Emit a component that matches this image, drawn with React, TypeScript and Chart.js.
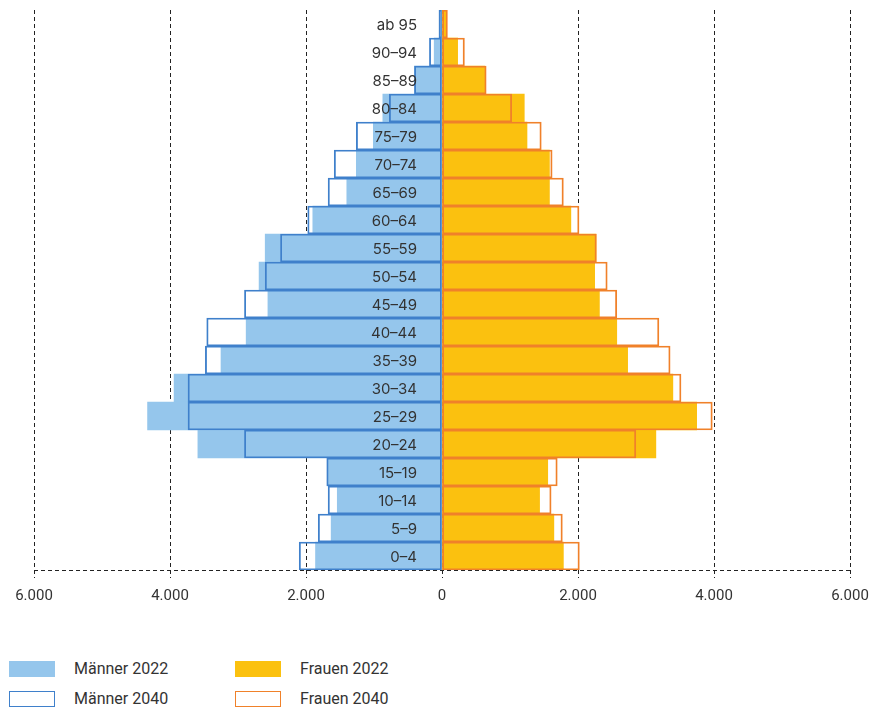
import React, { useEffect, useRef } from "react";
import { Chart, registerables } from "chart.js";

Chart.register(...registerables);

const ageGroups = ["ab 95","90–94","85–89","80–84","75–79","70–74","65–69","60–64","55–59","50–54","45–49","40–44","35–39","30–34","25–29","20–24","15–19","10–14","5–9","0–4"];
const maenner2022 = [35, 115, 405, 870, 1010, 1260, 1400, 1900, 2600, 2690, 2560, 2880, 3250, 3940, 4330, 3590, 1680, 1540, 1630, 1860];
const maenner2040 = [45, 185, 405, 775, 1260, 1585, 1675, 1975, 2375, 2600, 2905, 3460, 3480, 3735, 3735, 2905, 1695, 1675, 1820, 2100];
const frauen2022 = [55, 230, 630, 1210, 1250, 1580, 1580, 1895, 2265, 2245, 2315, 2570, 2730, 3395, 3745, 3145, 1555, 1435, 1645, 1785];
const frauen2040 = [80, 330, 650, 1025, 1460, 1620, 1785, 2015, 2270, 2430, 2570, 3190, 3355, 3515, 3975, 2850, 1695, 1605, 1770, 2020];
const axisMin = -6000;
const axisMax = 6000;
const axisStep = 2000;

const BLUE_FILL = "#95C6EC";
const BLUE_LINE = "#3F80CB";
const YELLOW_FILL = "#FBC10F";
const ORANGE_LINE = "#F0812A";
const GRID = "#222222";

const fmt = (v: number) => String(Math.abs(Math.round(v))).replace(/\B(?=(\d{3})+(?!\d))/g, ".");

const overlayPlugin = {
  id: "overlay",
  afterDatasetsDraw(chart: any) {
    const { ctx, scales, chartArea } = chart;
    ctx.save();
    ctx.strokeStyle = GRID;
    ctx.lineWidth = 1;
    ctx.setLineDash([4, 3]);
    ctx.beginPath();
    ctx.moveTo(chartArea.left, Math.round(chartArea.bottom) + 0.5);
    ctx.lineTo(chartArea.right, Math.round(chartArea.bottom) + 0.5);
    ctx.stroke();
    ctx.setLineDash([]);
    const x0 = scales.x.getPixelForValue(0);
    ctx.font = "15px Inter, 'Noto Sans', sans-serif";
    ctx.fillStyle = "#333333";
    ctx.textAlign = "right";
    ctx.textBaseline = "middle";
    ageGroups.forEach((g, i) => {
      ctx.fillText(g, x0 - 25, scales.y.getPixelForValue(i) + 1);
    });
    ctx.restore();
  },
};

const legendItems = [
  { label: "Männer 2022", fill: BLUE_FILL, border: BLUE_FILL, left: 1, top: 653 },
  { label: "Frauen 2022", fill: YELLOW_FILL, border: YELLOW_FILL, left: 227, top: 653 },
  { label: "Männer 2040", fill: "#ffffff", border: BLUE_LINE, left: 1, top: 683 },
  { label: "Frauen 2040", fill: "#ffffff", border: ORANGE_LINE, left: 227, top: 683 },
];

export default function App() {
  const ref = useRef<HTMLCanvasElement | null>(null);
  useEffect(() => {
    if (!ref.current) return;
    const common = { grouped: false, barPercentage: 1, categoryPercentage: 1 };
    const chart = new Chart(ref.current, {
      type: "bar",
      data: {
        labels: ageGroups,
        datasets: [
          { ...common, label: "Männer 2040", data: maenner2040.map((v) => -v), backgroundColor: "rgba(0,0,0,0)", borderColor: BLUE_LINE, borderWidth: 1.2, borderSkipped: false, order: 0 },
          { ...common, label: "Frauen 2040", data: frauen2040, backgroundColor: "rgba(0,0,0,0)", borderColor: ORANGE_LINE, borderWidth: 1.2, borderSkipped: false, order: 0 },
          { ...common, label: "Männer 2022", data: maenner2022.map((v) => -v), backgroundColor: BLUE_FILL, borderWidth: 0, order: 1 },
          { ...common, label: "Frauen 2022", data: frauen2022, backgroundColor: YELLOW_FILL, borderWidth: 0, order: 1 },
        ] as any,
      },
      options: {
        indexAxis: "y",
        animation: false,
        responsive: false,
        maintainAspectRatio: false,
        layout: { padding: { left: 34, right: 30, top: 2, bottom: 4 } },
        plugins: { legend: { display: false }, tooltip: { enabled: false } },
        scales: {
          x: {
            min: axisMin,
            max: axisMax,
            ticks: {
              stepSize: axisStep,
              callback: (v: any) => fmt(Number(v)),
              color: "#333333",
              font: { family: "Roboto, sans-serif", size: 15 },
              padding: 9,
            },
            grid: { color: GRID, lineWidth: 1, tickLength: 8, drawOnChartArea: true, tickBorderDash: [4, 3], tickColor: GRID },
            border: { display: false, color: GRID, dash: [4, 3] },
          } as any,
          y: {
            display: false,
            grid: { display: false },
          },
        },
      } as any,
      plugins: [overlayPlugin],
    });
    return () => chart.destroy();
  }, []);

  return (
    <div style={{ position: "relative", width: 864, height: 699, fontFamily: "Roboto, sans-serif" }}>
      <canvas ref={ref} width={880} height={610} style={{ display: "block", marginLeft: -8 }} />
      {legendItems.map((it) => (
        <div key={it.label} style={{ position: "absolute", left: it.left, top: it.top, display: "flex", alignItems: "center", height: 16 }}>
          <div style={{ width: 46, height: 16, boxSizing: "border-box", background: it.fill, border: `1.5px solid ${it.border}` }} />
          <span style={{ marginLeft: 19, fontSize: 16, color: "#333333", lineHeight: "16px" }}>{it.label}</span>
        </div>
      ))}
    </div>
  );
}
